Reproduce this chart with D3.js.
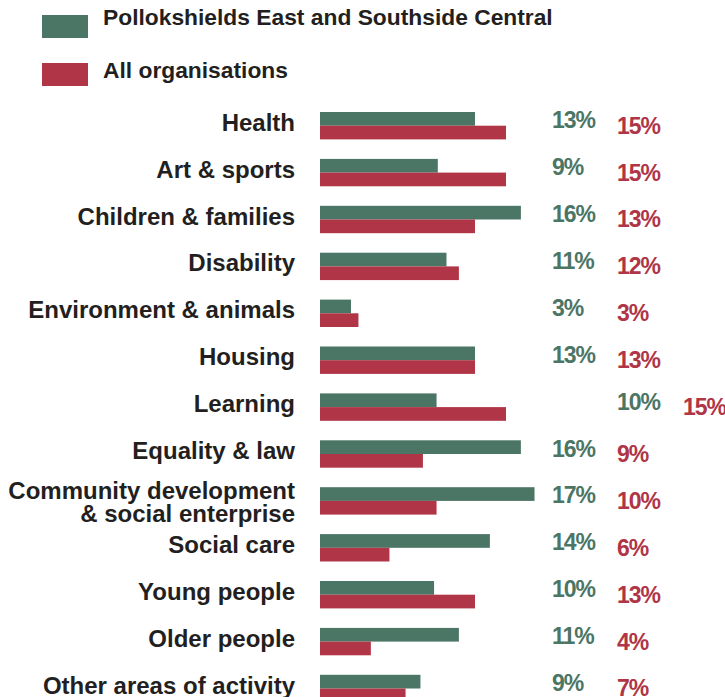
<!DOCTYPE html>
<html>
<head>
<meta charset="utf-8">
<script src="https://cdn.jsdelivr.net/npm/d3@7"></script>
<style>
  html, body { margin: 0; padding: 0; background: #fff; overflow: hidden; }
  svg { display: block; font-family: "Liberation Sans", Arial, sans-serif; font-weight: bold; }
</style>
</head>
<body>
<svg></svg>
<script>
var width = 725;
var height = 697;

var categories = [
  "Health",
  "Art & sports",
  "Children & families",
  "Disability",
  "Environment & animals",
  "Housing",
  "Learning",
  "Equality & law",
  "Community development\n& social enterprise",
  "Social care",
  "Young people",
  "Older people",
  "Other areas of activity"
];

var seriesNames = ["Pollokshields East and Southside Central", "All organisations"];
var seriesColors = ["#4b7564", "#b03546"];

// bar lengths (percent)
var localValues = [12.5, 9.5, 16.2, 10.2, 2.5, 12.5, 9.4, 16.2, 17.3, 13.7, 9.2, 11.2, 8.1];
var allValues = [15.0, 15.0, 12.5, 11.2, 3.1, 12.5, 15.0, 8.3, 9.4, 5.6, 12.5, 4.1, 6.9];

// printed labels
var localLabels = ["13%", "9%", "16%", "11%", "3%", "13%", "10%", "16%", "17%", "14%", "10%", "11%", "9%"];
var allLabels = ["15%", "15%", "13%", "12%", "3%", "13%", "15%", "9%", "10%", "6%", "13%", "4%", "7%"];

var rows = categories.map(function(c, i) {
  return {
    category: c,
    values: [localValues[i], allValues[i]],
    labels: [localLabels[i], allLabels[i]]
  };
});

var svg = d3.select("svg")
            .attr("width", width)
            .attr("height", height);

var xScale = d3.scaleLinear()
                .domain([0, 20])
                .range([320, 568]);

var yScale = d3.scaleBand()
                .domain(categories)
                .range([112, 702.2])
                .paddingInner(0.416)
                .paddingOuter(0)
                .align(0);

var subScale = d3.scaleBand()
                  .domain([0, 1])
                  .range([0, yScale.bandwidth()]);

// legend
var legend = svg.selectAll("g.legend")
  .data(seriesNames)
  .enter()
  .append("g")
    .attr("class", "legend")
    .attr("transform", (d, i) => "translate(42," + (15 + i * 48) + ")");

legend.append("rect")
    .attr("width", 46)
    .attr("height", 23)
    .attr("fill", (d, i) => seriesColors[i]);

legend.append("text")
    .attr("x", 61)
    .attr("y", (d, i) => i === 0 ? 10 : 15)
    .attr("font-size", "22.8px")
    .attr("fill", "#231f20")
    .text(d => d);

// rows
var row = svg.selectAll("g.row")
  .data(rows)
  .enter()
  .append("g")
    .attr("class", "row")
    .attr("transform", d => "translate(0," + yScale(d.category) + ")");

row.selectAll("rect")
  .data(d => d.values)
  .enter()
  .append("rect")
    .attr("x", xScale(0))
    .attr("y", (d, i) => subScale(i))
    .attr("width", d => xScale(d) - xScale(0))
    .attr("height", subScale.bandwidth())
    .attr("fill", (d, i) => seriesColors[i]);

var mid = yScale.bandwidth() / 2;

// category names, right aligned
row.append("text")
    .attr("text-anchor", "end")
    .attr("font-size", "24px")
    .attr("fill", "#231f20")
    .each(function(d) {
      var lines = d.category.split("\n");
      var t = d3.select(this);
      lines.forEach(function(l, j) {
        t.append("tspan")
          .attr("x", 295)
          .attr("y", lines.length > 1 ? mid - 2 + j * 23 : mid + 5)
          .text(l);
      });
    });

// percentage labels in fixed columns (Learning is pushed one column right)
var labelCols = [552, 617, 683];
row.selectAll("text.pct")
  .data(d => d.labels.map(l => ({ label: l, shift: d.category === "Learning" ? 1 : 0 })))
  .enter()
  .append("text")
    .attr("class", "pct")
    .attr("x", (d, i) => labelCols[i + d.shift])
    .attr("y", (d, i) => i === 0 ? mid + 2.5 : mid + 8)
    .attr("font-size", "23px")
    .attr("letter-spacing", "-1px")
    .attr("fill", (d, i) => seriesColors[i])
    .text(d => d.label);
</script>
</body>
</html>
